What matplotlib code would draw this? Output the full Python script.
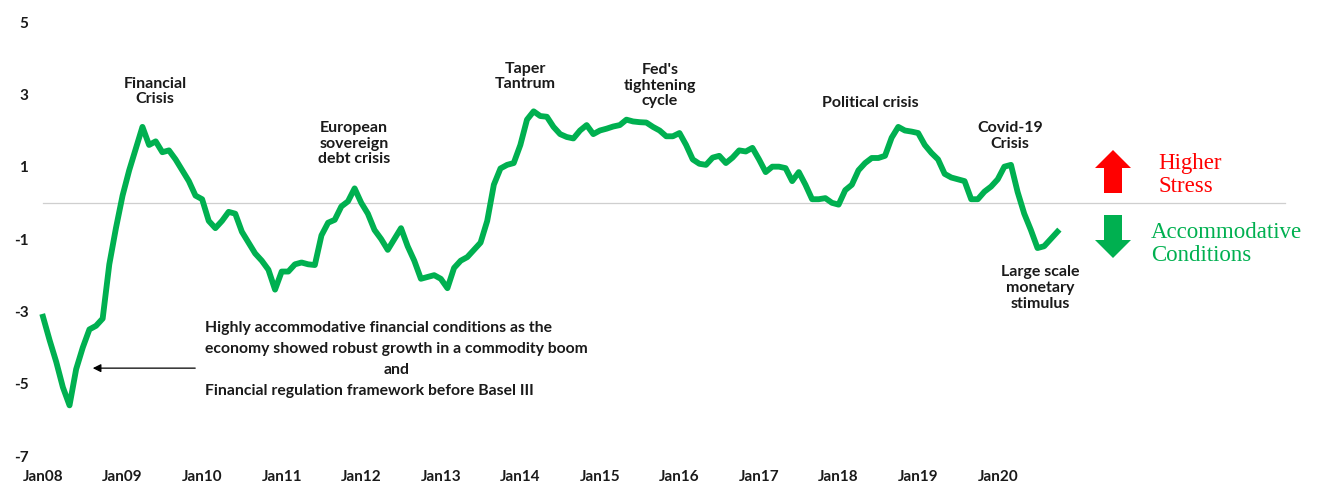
import numpy as np
import matplotlib
matplotlib.use("Agg")
import matplotlib.pyplot as plt
from matplotlib.patches import Polygon

# monthly financial stress index, Jan 2008 .. Oct 2020
stress = [
    -3.15, -3.8, -4.4, -5.1, -5.6, -4.6, -4.0, -3.5, -3.4, -3.2, -1.7, -0.7,   # 2008
    0.2, 0.9, 1.5, 2.1, 1.6, 1.7, 1.4, 1.45, 1.2, 0.9, 0.6, 0.2,              # 2009
    0.1, -0.5, -0.7, -0.5, -0.25, -0.3, -0.8, -1.1, -1.4, -1.6, -1.85, -2.4,  # 2010
    -1.9, -1.9, -1.7, -1.65, -1.7, -1.72, -0.9, -0.55, -0.47, -0.1, 0.04, 0.4,  # 2011
    0.0, -0.3, -0.75, -1.0, -1.3, -1.0, -0.7, -1.2, -1.6, -2.1, -2.05, -2.0,  # 2012
    -2.1, -2.36, -1.8, -1.6, -1.5, -1.3, -1.1, -0.5, 0.5, 0.95, 1.05, 1.1,    # 2013
    1.6, 2.3, 2.53, 2.4, 2.38, 2.1, 1.9, 1.82, 1.78, 2.0, 2.15, 1.9,          # 2014
    2.0, 2.05, 2.11, 2.15, 2.3, 2.25, 2.23, 2.22, 2.1, 2.0, 1.84, 1.84,       # 2015
    1.93, 1.6, 1.2, 1.08, 1.05, 1.25, 1.3, 1.1, 1.25, 1.45, 1.42, 1.52,       # 2016
    1.2, 0.85, 1.0, 1.0, 0.96, 0.6, 0.85, 0.5, 0.1, 0.1, 0.13, 0.0,           # 2017
    -0.05, 0.35, 0.5, 0.9, 1.1, 1.24, 1.24, 1.3, 1.8, 2.1, 2.0, 1.97,         # 2018
    1.93, 1.6, 1.38, 1.2, 0.8, 0.7, 0.65, 0.6, 0.1, 0.1, 0.31, 0.45,          # 2019
    0.65, 1.0, 1.05, 0.3, -0.3, -0.75, -1.25, -1.2, -1.0, -0.8,               # 2020
]
years = ["Jan08", "Jan09", "Jan10", "Jan11", "Jan12", "Jan13", "Jan14",
         "Jan15", "Jan16", "Jan17", "Jan18", "Jan19", "Jan20"]
yticks = [5, 3, 1, -1, -3, -5, -7]

W, H = 1321, 487
fig = plt.figure(figsize=(W / 100, H / 100), dpi=100)
fig.patch.set_facecolor("white")

def fx(px):
    return px / W

def fy(py):
    return 1 - py / H

ax = fig.add_axes([fx(38), fy(456), fx(1300) - fx(38), fy(22) - fy(456)])
ax.set_facecolor("white")

months = np.arange(len(stress))
ppm = 6.63  # pixels per month
ax.set_xlim(-(43 - 38) / ppm, (1300 - 43) / ppm)
ax.set_ylim(-7, 5)

font = "Lato"
dark = "#1a1a1a"

# zero line
ax.plot([0, (1285 - 43) / ppm], [0, 0], color="#cfcfcf", lw=0.9, zorder=1)
ax.plot(months, stress, color="#00B050", lw=4.2, solid_joinstyle="round", zorder=3)

for s in ax.spines.values():
    s.set_visible(False)
ax.set_yticks(yticks)
ax.set_yticklabels([str(v) for v in yticks])
ax.set_xticks(np.arange(0, 12 * len(years), 12))
ax.set_xticklabels(years)
ax.tick_params(axis="both", length=0, labelsize=11, labelcolor=dark)
ax.tick_params(axis="y", pad=7)
ax.tick_params(axis="x", pad=10)
for lab in ax.get_xticklabels() + ax.get_yticklabels():
    lab.set_fontfamily(font)
    lab.set_fontweight("bold")

def note(m, v, txt, **kw):
    ax.text(m, v, txt, ha="center", va="center", fontsize=11.5, color=dark,
            family=font, fontweight="bold", linespacing=1.15, **kw)

def at(px, py):
    return (px - 43) / ppm, (203 - py) / 36.1

note(*at(155, 92), "Financial\nCrisis")
note(*at(354, 144), "European\nsovereign\ndebt crisis")
note(*at(525, 77), "Taper\nTantrum")
note(*at(660, 86), "Fed's\ntightening\ncycle")
note(*at(870, 103), "Political crisis")
note(*at(1010, 136), "Covid-19\nCrisis")
note(*at(1040, 288), "Large scale\nmonetary\nstimulus")

# 2008 comment block
for py, line in [(328, "Highly accommodative financial conditions as the"),
                 (349, "economy showed robust growth in a commodity boom"),
                 (391, "Financial regulation framework before Basel III")]:
    mx, my = at(205, py)
    ax.text(mx, my, line, ha="left", va="center", fontsize=11.3, color=dark,
            family=font, fontweight="bold")
mx, my = at(397, 370)
ax.text(mx, my, "and", ha="center", va="center", fontsize=11.3, color=dark,
        family=font, fontweight="bold")
ax.annotate("", xy=at(90, 368), xytext=at(198, 368),
            arrowprops=dict(arrowstyle="-|>", color="black", lw=0.9,
                            mutation_scale=12))

# stress direction arrows on the right
def block_arrow(cx, tip, base, color):
    hw, sw = 18, 9
    d = 1 if base > tip else -1
    neck = tip + d * 18
    pts = [(cx, tip), (cx + hw, neck), (cx + sw, neck), (cx + sw, base),
           (cx - sw, base), (cx - sw, neck), (cx - hw, neck)]
    fig.patches.append(Polygon([(fx(x), fy(y)) for x, y in pts], closed=True,
                               transform=fig.transFigure, facecolor=color,
                               edgecolor="none"))

block_arrow(1113, 150, 193, "#FF0000")
block_arrow(1113, 258, 215, "#00B050")

fig.text(fx(1158), fy(175), "Higher\nStress", color="#FF0000", fontsize=16.5,
         family="Liberation Serif", ha="left", va="center", linespacing=1.1)
fig.text(fx(1151), fy(244), "Accommodative\nConditions", color="#00B050",
         fontsize=16.5, family="Liberation Serif", ha="left", va="center",
         linespacing=1.1)

fig.savefig("out.png", dpi=100, facecolor="white")
